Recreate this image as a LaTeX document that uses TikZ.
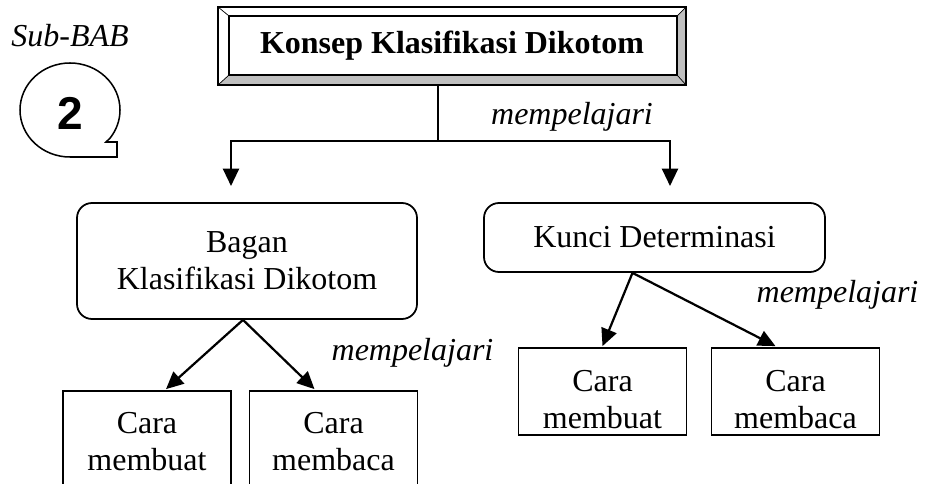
\documentclass[tikz,border=0pt]{standalone}
\usepackage{fontspec}
\setmainfont{Liberation Serif}
\newfontfamily\angkafont{Liberation Sans}
\usepackage{tikz}
\usetikzlibrary{arrows.meta, positioning, calc}
\newcommand{\ukuran}{\fontsize{27.3pt}{31.6pt}\selectfont}
\newcommand{\atas}{\rule{0pt}{1.11cm}}
\tikzset{%
	judul/.style={
		minimum width=14.04cm,
		minimum height=2.34cm,
		font=\ukuran\bfseries
	},
	bulat/.style={
		draw,
		rounded corners=0.45cm,
		line width=1.5pt,
		align=center,
		minimum width=10.2cm
	},
	kotak/.style={
		draw,
		line width=1.5pt,
		align=center,
		minimum width=5.04cm
	},
	garis/.style={line width=1.6pt},
	panah/.style={
		-{Triangle[length=0.52cm,width=0.48cm]},
		line width=1.9pt
	},
	keterangan/.style={font=\ukuran\itshape},
}
\begin{document}
\begin{tikzpicture}[x=0.03cm, y=-0.03cm, font=\ukuran]
			\path[use as bounding box] (0,0) rectangle (931,484);
			\clip (0,0) rectangle (931,484);
			
			% Sub-BAB
			\node[keterangan] (subbab) at (70,36) {Sub-BAB};
			\draw[garis, line width=1.3pt] (70,157) arc[start angle=90, end angle=397, x radius=50, y radius=47]
				-- (106,142) -- (117,142) -- (117,157) -- cycle;
			\node[font=\angkafont\fontsize{39.3pt}{40pt}\selectfont\bfseries] (nomor) at (70,113) {2};
			
			% Draw the title frame
			\node[judul] (konsep) at (452,46) {Konsep Klasifikasi Dikotom};
			\fill[black!25] (konsep.south west) -- (konsep.south east) -- (konsep.north east)
				-- ($(konsep.north east)+(-9,9)$) -- ($(konsep.south east)+(-9,-10)$)
				-- ($(konsep.south west)+(11,-10)$) -- cycle;
			\draw[garis] (konsep.north west) rectangle (konsep.south east);
			\draw[garis] ($(konsep.north west)+(11,9)$) rectangle ($(konsep.south east)+(-9,-10)$);
			\draw[line width=0.6pt] (konsep.north west) -- ++(11,9);
			\draw[line width=0.6pt] (konsep.north east) -- ++(-9,9);
			\draw[line width=0.6pt] (konsep.south west) -- ++(11,-10);
			\draw[line width=0.6pt] (konsep.south east) -- ++(-9,-10);
			
			\coordinate (cabang) at (438,141);
			\coordinate (ujungkiri) at (231,186);
			\coordinate (ujungkanan) at (670,186);
			\draw[garis] (konsep.south -| cabang) -- (cabang);
			\draw[panah] (cabang) -| (ujungkiri);
			\draw[panah] (cabang) -| (ujungkanan);
			\node[keterangan] (pelajari1) at (572,117) {mempelajari};
			
			% Draw the second level
			\node[bulat, minimum height=3.48cm] (bagan) at (247,261) {Bagan\\Klasifikasi Dikotom};
			\node[bulat, minimum width=10.23cm, minimum height=2.07cm] (kunci) at (654.5,237.5) {Kunci Determinasi};
			
			% Draw the third level
			\node[kotak, minimum height=3.06cm] (buat1) at (147,442) {Cara\\membuat};
			\node[kotak, minimum height=3.06cm] (baca1) at (333.5,442) {Cara\\membaca};
			\node[kotak, minimum height=2.61cm] (buat2) at (602.5,391.5) {\atas Cara\\membuat};
			\node[kotak, minimum height=2.61cm] (baca2) at (795.5,391.5) {\atas Cara\\membaca};
			
			\draw[panah] ($(bagan.south)+(-4,0)$) -- ($(buat1.north)+(19,-1)$);
			\draw[panah] ($(bagan.south)+(-4,0)$) -- ($(baca1.north)+(-19,-1)$);
			\node[keterangan] (pelajari2) at (412.5,353) {mempelajari};
			
			\draw[panah] ($(kunci.south)+(-22,0)$) -- ($(buat2.north)+(0,-1)$);
			\draw[panah] ($(kunci.south)+(-22,0)$) -- ($(baca2.north)+(-20,-1)$);
			\node[keterangan] (pelajari3) at (837.5,295) {mempelajari};
			
		\end{tikzpicture}
\end{document}
